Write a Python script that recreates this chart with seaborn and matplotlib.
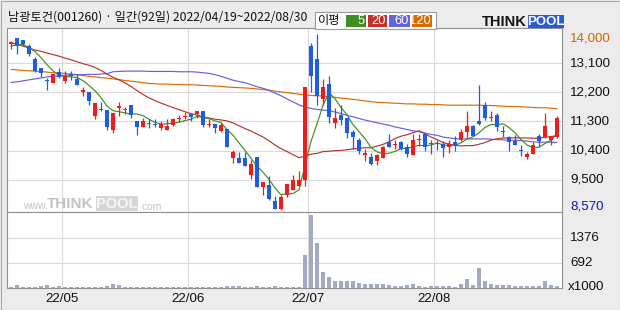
import numpy as np
import pandas as pd
import matplotlib
matplotlib.use("Agg")
import matplotlib.pyplot as plt
import matplotlib.transforms as mtrans
from matplotlib.patches import Rectangle
import seaborn as sns

# ---------------- data ----------------
opens = [13700, 13870, 13800, 13630, 13220, 12940, 12560, 12490, 12820, 12560,
         12760, 12620, 12200, 12200, 11480, 11670, 11650, 11050, 11700, 11640,
         11800, 11300, 11130, 11250, 11210, 11100, 11050, 11200, 11370, 11440,
         11540, 11530, 11630, 11200, 11220, 11000, 11070, 10170, 10170, 10170,
         9660, 10200, 9270, 9350, 8860, 8600, 9040, 9180, 9320, 9480,
         13620, 13220, 12000, 12450, 11240, 11510, 11410, 10970, 10730, 10250,
         10190, 10090, 10180, 10680, 10580, 10670, 10510, 10250, 10720, 10910,
         10610, 10600, 10600, 10500, 10660, 10720, 10970, 11150, 11320, 11790,
         11400, 11490, 10990, 10810, 10690, 10390, 10190, 10300, 10840, 10810,
         10740, 10810]
highs = [13790, 13870, 13800, 13690, 13270, 12940, 12640, 12760, 12950, 12840,
         12860, 12760, 12350, 12200, 11870, 11900, 11650, 11560, 11890, 11750,
         11800, 11300, 11390, 11360, 11360, 11300, 11380, 11400, 11490, 11590,
         11540, 11610, 11630, 11370, 11220, 11250, 11070, 10430, 10360, 10350,
         10100, 10200, 9430, 9630, 8990, 9040, 9380, 9660, 9760, 12350,
         13720, 14000, 12610, 12690, 11710, 11810, 11410, 11040, 10780, 10440,
         10320, 10300, 10550, 10910, 10730, 10690, 10600, 10910, 10910, 10910,
         10730, 10740, 10710, 10720, 10840, 11070, 11630, 11200, 12430, 11900,
         11630, 11560, 11150, 10840, 10870, 10560, 10360, 10650, 10910, 11560,
         10860, 11460]
lows = [13540, 13390, 13610, 13310, 12810, 12660, 12280, 12490, 12640, 12480,
        12590, 12430, 12090, 11820, 11360, 11630, 11050, 10940, 11480, 11530,
        11390, 10890, 11130, 11100, 11130, 11050, 11050, 11170, 11280, 11360,
        11300, 11390, 11130, 11140, 10940, 10970, 10500, 10020, 10020, 9920,
        9510, 9270, 9040, 8890, 8600, 8570, 8960, 9180, 9300, 9300,
        12200, 11790, 11810, 11240, 11110, 11190, 10790, 10440, 10280, 10090,
        9970, 9960, 10160, 10500, 10450, 10410, 10200, 10250, 10530, 10400,
        10300, 10430, 10200, 10330, 10400, 10690, 10790, 10840, 11200, 11350,
        11300, 11000, 10810, 10400, 10580, 10220, 10150, 10300, 10530, 10790,
        10580, 10790]
closes = [13750, 13610, 13690, 13390, 12840, 12790, 12530, 12760, 12670, 12700,
          12700, 12430, 12280, 11940, 11870, 11650, 11130, 11560, 11780, 11680,
          11490, 11130, 11300, 11230, 11200, 11230, 11170, 11380, 11390, 11460,
          11430, 11610, 11200, 11230, 11100, 11200, 10500, 10360, 10020, 9940,
          10000, 9270, 9430, 8920, 8610, 8970, 9380, 9500, 9500, 12350,
          12690, 12090, 12350, 11450, 11410, 11350, 10950, 10820, 10390, 10330,
          10000, 10260, 10510, 10500, 10600, 10440, 10310, 10730, 10740, 10500,
          10590, 10590, 10480, 10600, 10560, 10970, 11150, 10840, 11220, 11390,
          11420, 11130, 10970, 10650, 10580, 10380, 10280, 10580, 10710, 11150,
          10840, 11400]
volumes = [40, 70, 40, 40, 40, 45, 70, 40, 60, 35,
           30, 30, 30, 30, 40, 35, 45, 100, 70, 40,
           35, 35, 30, 30, 30, 30, 30, 30, 30, 30,
           35, 30, 30, 30, 30, 35, 60, 60, 55, 35,
           40, 60, 35, 40, 60, 40, 30, 35, 40, 920,
           2000, 1250, 440, 300, 180, 180, 180, 180, 140, 100,
           100, 100, 100, 80, 60, 50, 70, 100, 50, 40,
           60, 60, 60, 55, 40, 100, 250, 80, 540, 200,
           100, 90, 70, 90, 50, 60, 60, 50, 60, 200,
           70, 50]  # x1000 shares
ma5_head = [13620, 13660, 13670, 13580]
ma20_head = [13720, 13680, 13620, 13560, 13500, 13460, 13410, 13360, 13310, 13250,
             13200, 13140, 13080, 13030, 12960, 12870, 12760, 12660, 12580]
ma60 = [12500, 12520, 12550, 12580, 12610, 12640, 12670, 12690, 12710, 12720,
        12730, 12740, 12740, 12750, 12750, 12760, 12770, 12830, 12840, 12850,
        12850, 12850, 12850, 12840, 12840, 12840, 12840, 12840, 12830, 12830,
        12830, 12820, 12800, 12780, 12740, 12690, 12630, 12570, 12530, 12490,
        12430, 12370, 12320, 12260, 12170, 12090, 11990, 11900, 11810, 11740,
        11700, 11670, 11650, 11630, 11590, 11540, 11490, 11440, 11390, 11340,
        11300, 11260, 11220, 11180, 11130, 11090, 11050, 11010, 10980, 10940,
        10900, 10870, 10820, 10790, 10770, 10760, 10760, 10760, 10760, 10760,
        10750, 10740, 10730, 10720, 10720, 10710, 10690, 10670, 10660, 10660,
        10660, 10650]
ma120 = [12900, 12890, 12870, 12860, 12850, 12840, 12820, 12800, 12790, 12780,
         12760, 12740, 12710, 12690, 12670, 12650, 12630, 12610, 12590, 12560,
         12540, 12520, 12490, 12470, 12460, 12450, 12450, 12440, 12440, 12430,
         12430, 12420, 12410, 12400, 12390, 12380, 12360, 12350, 12340, 12330,
         12320, 12300, 12280, 12260, 12230, 12210, 12190, 12160, 12140, 12120,
         12100, 12090, 12080, 12060, 12040, 12020, 12000, 11980, 11960, 11930,
         11910, 11890, 11880, 11870, 11860, 11850, 11840, 11840, 11830, 11830,
         11820, 11820, 11810, 11800, 11800, 11800, 11800, 11800, 11800, 11790,
         11790, 11780, 11770, 11760, 11760, 11750, 11740, 11730, 11720, 11720,
         11710, 11690]
month_labels = ["22/05", "22/06", "22/07", "22/08"]
month_start = [9, 30, 50, 71]
price_grid = [13100, 12200, 11300, 10400, 9500]
price_max = 14000
price_min = 8570
vol_ticks = [1376, 692]
title = "남광토건(001260) · 일간(92일) 2022/04/19~2022/08/30"
ma_names = ["5", "20", "60", "120"]

# ---------------- styling ----------------
sns.set_theme(style="white")
plt.rcParams["font.family"] = ["Liberation Sans", "DejaVu Sans"]
CJK = ["Noto Sans CJK KR", "DejaVu Sans"]

RED, BLUE = "#f01c1c", "#1f5ce4"
MA_COL = ["#3f8f1f", "#b83330", "#6c5ce0", "#d96c00"]
LEG_COL = ["#3f8f25", "#c4302a", "#6464dc", "#d86c00"]
GRID = "#d9d9d9"
SPINE = "#909090"

W, H = 620, 310
fig = plt.figure(figsize=(6.2, 3.1), dpi=100, facecolor="#ececec")


def box(x0, y0, x1, y1):
    return [x0 / W, 1 - y1 / H, (x1 - x0) / W, (y1 - y0) / H]


axp = fig.add_axes(box(7, 28, 562, 212))
axv = fig.add_axes(box(7, 212, 562, 288))

n = len(closes)
df = pd.DataFrame({"idx": np.arange(n), "open": opens, "high": highs,
                   "low": lows, "close": closes, "vol": volumes,
                   "ma60": ma60, "ma120": ma120})
df["ma5"] = df["close"].rolling(5).mean()
df.loc[:len(ma5_head) - 1, "ma5"] = ma5_head
df["ma20"] = df["close"].rolling(20).mean()
df.loc[:len(ma20_head) - 1, "ma20"] = ma20_head

XL = (-0.667, 91.83)
for ax in (axp, axv):
    ax.set_facecolor("white")
    for m in month_start:
        ax.axvline(m - 0.5, color=GRID, lw=0.8, zorder=0)
    for s in ax.spines.values():
        s.set_color(SPINE)
        s.set_linewidth(0.8)
for p in price_grid:
    axp.axhline(p, color=GRID, lw=0.8, zorder=0)
for v in vol_ticks:
    axv.axhline(v, color=GRID, lw=0.8, zorder=0)

# moving averages
for col, c in zip(["ma120", "ma60", "ma20", "ma5"], MA_COL[::-1]):
    sns.lineplot(data=df, x="idx", y=col, ax=axp, color=c, lw=0.85,
                 zorder=2, legend=False)

# candles
up = df["close"] >= df["open"]
cols = np.where(up, RED, BLUE)
axp.vlines(df["idx"], df["low"], df["high"], colors=cols, lw=0.9, zorder=3)
body_lo = np.minimum(df["open"], df["close"])
body_h = np.maximum((df["close"] - df["open"]).abs(), 35)
axp.bar(df["idx"], body_h, bottom=body_lo, width=0.7, color=cols, lw=0,
        zorder=4, antialiased=False)

axp.set_xlim(*XL)
axp.set_ylim(8507, 14179)
axp.set_xticks([]); axp.set_yticks([])
axp.set_xlabel(""); axp.set_ylabel("")

# volume
sns.barplot(x=df["idx"], y=df["vol"], native_scale=True, ax=axv,
            color="#a2aac4", saturation=1, width=0.78, linewidth=0, zorder=2)
axv.set_xlim(*XL)
axv.set_ylim(0, 2095)
axv.set_xticks([]); axv.set_yticks([])
axv.set_xlabel(""); axv.set_ylabel("")

# right-hand price labels
dpi_t = fig.dpi_scale_trans
tp = mtrans.blended_transform_factory(axp.transAxes, axp.transData)
lx = 1 + 8 / 555
FS = 9.6
for p in price_grid:
    axp.text(lx, p, f"{p:,}", transform=tp, va="center", ha="left",
             fontsize=FS, color="#111111", clip_on=False)
axp.text(lx, price_max, f"{price_max:,}", va="center", ha="left", fontsize=FS,
         color="#d06a00", clip_on=False,
         transform=tp + mtrans.ScaledTranslation(0, -4.5 / 100, dpi_t))
axp.text(lx, price_min, f"{price_min:,}", va="center", ha="left", fontsize=FS,
         color="#1616b0", clip_on=False,
         transform=tp + mtrans.ScaledTranslation(0, 3.5 / 100, dpi_t))

tv = mtrans.blended_transform_factory(axv.transAxes, axv.transData)
for v in vol_ticks:
    axv.text(lx, v, f"{v}", transform=tv, va="center", ha="left",
             fontsize=FS, color="#111111", clip_on=False)
axv.text(1 + 6 / 555, 0, "x1000", va="center", ha="left", fontsize=FS,
         color="#111111", clip_on=False,
         transform=tv + mtrans.ScaledTranslation(0, 1 / 100, dpi_t))

# month labels
tx = mtrans.blended_transform_factory(axv.transData, axv.transAxes)
for m, lab in zip(month_start, month_labels):
    axv.text(m - 0.5, 0, lab, ha="center", va="center", fontsize=FS,
             color="#111111", clip_on=False,
             transform=tx + mtrans.ScaledTranslation(0, -10.5 / 100, dpi_t))

# ---------------- decorations in pixel space ----------------
deco = fig.add_axes([0, 0, 1, 1], zorder=10)
deco.set_xlim(0, W); deco.set_ylim(H, 0)
deco.axis("off")
deco.patch.set_alpha(0)

deco.add_patch(Rectangle((0.5, 0.5), W - 1, H - 1, fill=False,
                         ec="#a8a8a8", lw=0.8))
deco.text(8, 17.5, title, fontsize=8.8, family=CJK, va="center", ha="left",
          color="#111111")

# legend box
deco.add_patch(Rectangle((315, 12), 121, 17, fc="white", ec="#9a9a9a", lw=0.8))
deco.text(318, 20.5, "이평", fontsize=8.8, family=CJK, va="center", ha="left",
          color="#111111")
lb = [(346, 20), (368, 19), (389, 21), (412, 20)]
for (x0, w), c, name in zip(lb, LEG_COL, ma_names):
    deco.add_patch(Rectangle((x0, 15), w, 12, fc=c, ec="none"))
    deco.text(x0 + w - 1.5, 21.3, name, fontsize=9.3, color="white",
              va="center", ha="right")

# ThinkPool logo
deco.text(482, 22, "THINK", fontsize=10.5, weight="bold",
          color="#151515", va="center", ha="left")
deco.add_patch(Rectangle((528, 15), 36, 13, fc="#2a5bd7", ec="none"))
deco.text(546, 21.8, "POOL", fontsize=9.5, weight="bold",
          color="white", va="center", ha="center")

# watermark
deco.text(23, 206, "www.", fontsize=7.5, color="#c2c2c2", va="center",
          ha="left")
deco.text(47, 204, "THINK", fontsize=11, weight="bold", color="#c4c4c4",
          va="center", ha="left")
deco.add_patch(Rectangle((96, 196), 42, 15, fc="#d6d6d6", ec="none"))
deco.text(117, 204, "POOL", fontsize=10.5, weight="bold", color="#f6f6f6",
          va="center", ha="center")
deco.text(139, 206.5, ".com", fontsize=7.5, color="#c2c2c2", va="center",
          ha="left")

fig.savefig("out.png", dpi=100, facecolor=fig.get_facecolor())
